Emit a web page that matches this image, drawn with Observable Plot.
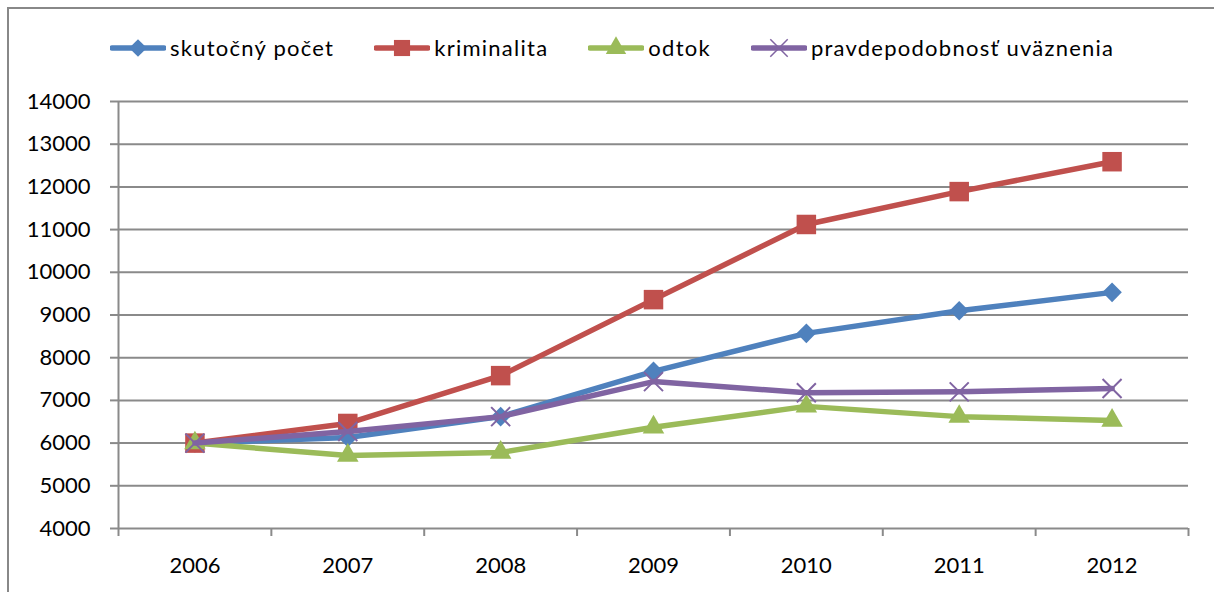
<!DOCTYPE html>
<html>
<head>
<meta charset="utf-8">
<script src="https://cdn.jsdelivr.net/npm/d3@7"></script>
<script src="https://cdn.jsdelivr.net/npm/@observablehq/plot@0.6"></script>
<style>
  html, body { margin: 0; padding: 0; background: #fff; }
  body { width: 1214px; height: 592px; position: relative; overflow: hidden; font-family: Lato, "Open Sans", sans-serif; }
  #frame { position: absolute; left: 7px; top: 7px; width: 1240px; height: 620px; border: 2px solid #888; box-sizing: border-box; }
  #legend { position: absolute; left: 110px; top: 34px; display: flex; align-items: center; font-size: 22px; letter-spacing: 1.25px; color: #000; white-space: nowrap; }
  .item { display: flex; align-items: center; margin-right: 40px; }
  .item svg { display: block; margin-right: 4px; }
  #chart { position: absolute; left: 0; top: 80px; }
</style>
</head>
<body>
<div id="frame"></div>
<div id="legend"></div>
<div id="chart"></div>
<script>
const years = [2006, 2007, 2008, 2009, 2010, 2011, 2012];
const seriesNames = ["skutočný počet", "kriminalita", "odtok", "pravdepodobnosť uväznenia"];
const skutocnyPocet = [6000, 6130, 6620, 7680, 8570, 9100, 9530];
const kriminalita = [6000, 6460, 7580, 9360, 11120, 11890, 12590];
const odtok = [6000, 5710, 5780, 6370, 6860, 6620, 6530];
const pravdepodobnost = [6000, 6270, 6620, 7440, 7180, 7200, 7280];
const yTicks = [4000, 5000, 6000, 7000, 8000, 9000, 10000, 11000, 12000, 13000, 14000];
const colors = ["#4F81BD", "#C0504D", "#9BBB59", "#8064A2"];
const symbols = ["diamond2", "square", "triangle", "times"];
const radii = [8.8, 11, 8, 8.7];

const values = [skutocnyPocet, kriminalita, odtok, pravdepodobnost];
const data = [];
seriesNames.forEach((s, i) => years.forEach((yr, j) => data.push({series: s, year: yr, value: values[i][j]})));

const xDomain = [years[0] - 0.5, years[years.length - 1] + 0.5];
const boundaries = d3.range(xDomain[0], xDomain[1] + 0.01, 1);
const font = "Lato, 'Open Sans', sans-serif";

const marks = [
  Plot.gridY(yTicks, {stroke: "#8a8a8a", strokeOpacity: 1, strokeWidth: 2}),
  Plot.ruleX([xDomain[0]], {stroke: "#8a8a8a", strokeWidth: 2}),
  Plot.axisY(yTicks, {tickSize: 8, tickPadding: 20, stroke: "#8a8a8a", strokeWidth: 2, fill: "#000", fontSize: 22, label: null, tickFormat: d => String(d)}),
  Plot.axisX(boundaries, {tickSize: 8, tickFormat: () => "", stroke: "#8a8a8a", strokeWidth: 2, label: null}),
  Plot.axisX(years, {tickSize: 0, tickPadding: 29, fill: "#000", fontSize: 22, label: null, tickFormat: d => String(d), style: {letterSpacing: "1px"}})
];
seriesNames.forEach((s, i) => {
  const d = data.filter(e => e.series === s);
  marks.push(Plot.line(d, {x: "year", y: "value", stroke: colors[i], strokeWidth: 5.5, strokeLinejoin: "round", strokeLinecap: "round"}));
  if (symbols[i] === "times") {
    marks.push(Plot.dot(d, {x: "year", y: "value", symbol: "times", r: radii[i], stroke: colors[i], strokeWidth: 2}));
  } else {
    marks.push(Plot.dot(d, {x: "year", y: "value", symbol: symbols[i], r: radii[i], fill: colors[i], stroke: "none"}));
  }
});

const chart = Plot.plot({
  width: 1214,
  height: 512,
  marginLeft: 118,
  marginRight: 26,
  marginTop: 21,
  marginBottom: 64,
  style: {fontFamily: font, fontSize: "22px", background: "transparent", overflow: "visible"},
  x: {type: "linear", domain: xDomain, axis: null},
  y: {type: "linear", domain: [yTicks[0], yTicks[yTicks.length - 1]], axis: null},
  marks
});
document.getElementById("chart").appendChild(chart);

// legend
const legend = d3.select("#legend");
const legendSyms = {diamond2: d3.symbolDiamond2, square: d3.symbolSquare, triangle: d3.symbolTriangle, times: d3.symbolTimes};
const legendSizes = [200, 260, 180, 200];
seriesNames.forEach((s, i) => {
  const it = legend.append("div").attr("class", "item");
  const svg = it.append("svg").attr("width", 56).attr("height", 24);
  svg.append("line").attr("x1", 2).attr("x2", 54).attr("y1", 12).attr("y2", 12)
    .attr("stroke", colors[i]).attr("stroke-width", 5.5).attr("stroke-linecap", "round");
  const p = svg.append("path").attr("transform", "translate(28,12)")
    .attr("d", d3.symbol(legendSyms[symbols[i]], legendSizes[i])());
  if (symbols[i] === "times") p.attr("fill", "none").attr("stroke", colors[i]).attr("stroke-width", 1.5);
  else p.attr("fill", colors[i]);
  it.append("span").text(s);
});
</script>
</body>
</html>
